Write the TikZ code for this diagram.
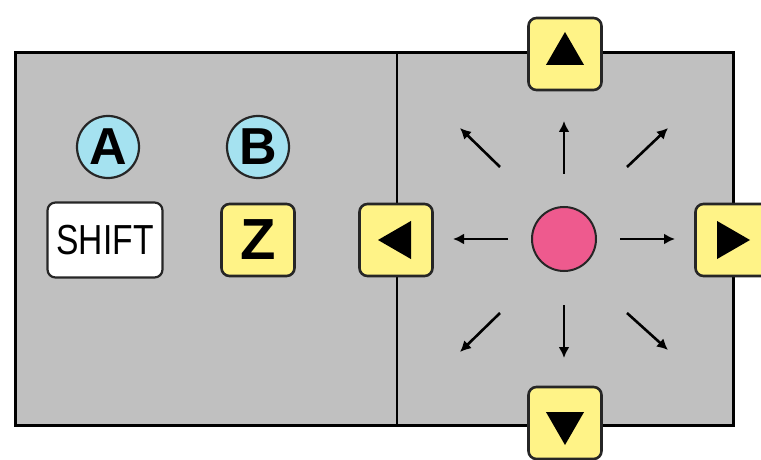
\documentclass[tikz,border=0pt]{standalone}
\usepackage{fontspec}
\setmainfont{Liberation Sans}
\usetikzlibrary{shapes.geometric,arrows.meta}
\definecolor{panelgray}{RGB}{192,192,192}
\definecolor{keyyellow}{RGB}{255,243,135}
\definecolor{btncyan}{RGB}{165,226,240}
\definecolor{padpink}{RGB}{238,90,142}

\begin{document}
\begin{tikzpicture}[x=0.5pt,y=-0.5pt,
    key/.style={draw=black!85, line width=1.3pt, rounded corners=4pt, fill=keyyellow, minimum width=36.5pt, minimum height=36pt, inner sep=0pt},
    btn/.style={circle, draw=black!85, line width=1.1pt, fill=btncyan, minimum size=31pt, inner sep=0pt, font=\fontsize{26}{26}\selectfont\bfseries},
    tri/.style={regular polygon, regular polygon sides=3, fill=black, minimum size=22pt, inner sep=0pt},
    dir/.style={-{Latex[length=5.5pt,width=5.5pt]}, line width=1.3pt}]
    \useasboundingbox (0,0) rectangle (761,460);

    % draw panel and divider
    \draw[fill=panelgray, line width=1.5pt] (15,53) rectangle (733,425);
    \draw[line width=1.2pt] (397,53) -- (397,425);

    % draw buttons
    \node[btn] (a) at (108,147) {A};
    \node[btn] (b) at (258,147) {B};
    \node[draw=black!85, fill=white, rounded corners=4pt, line width=1.1pt, minimum width=57.5pt, minimum height=37.5pt, font=\fontsize{21}{21}\selectfont] (shift) at (105,240) {\scalebox{0.8}[1]{SHIFT}};
    \node[key, font=\fontsize{29}{29}\selectfont\bfseries] (z) at (258,240) {Z};

    % draw direction keys
    \node[key] (up) at (565,54) {};
    \node[tri] at (up) {};
    \node[key] (down) at (565,423) {};
    \node[tri, shape border rotate=180] at (down) {};
    \node[key] (left) at (396,240) {};
    \node[tri, shape border rotate=90] at ([xshift=2pt]left.center) {};
    \node[key] (right) at (732,240) {};
    \node[tri, shape border rotate=270] at ([xshift=-2pt]right.center) {};

    % draw pad and arrows
    \node[circle, draw=black!85, fill=padpink, line width=1pt, minimum size=32pt] (pad) at (564,239) {};
    \foreach \sx/\sy/\ex/\ey in {-56/0/-111/0, 56/0/111/0, 0/-65/0/-118, 0/66/0/119,
        -64/-72/-104/-111, 63/-72/104/-111, -64/74/-104/113, 63/74/104/111}
        \draw[dir] ([shift={(\sx,\sy)}]pad.center) -- ([shift={(\ex,\ey)}]pad.center);
\end{tikzpicture}
\end{document}
